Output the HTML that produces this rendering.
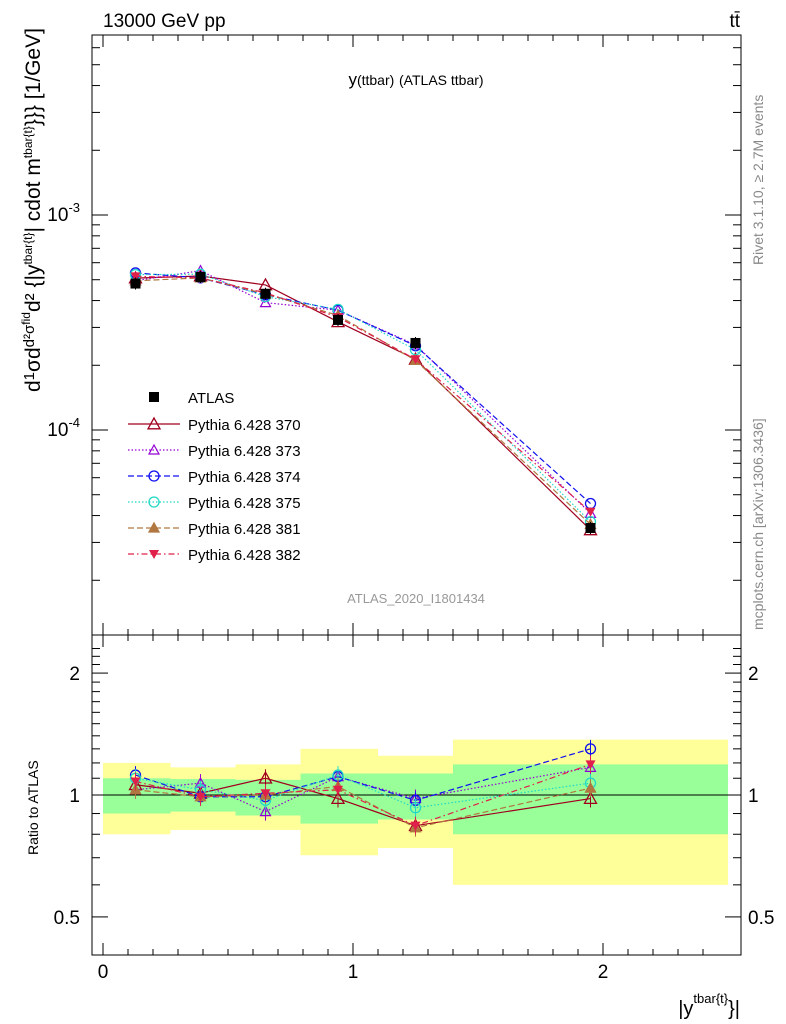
<!DOCTYPE html>
<html><head><meta charset="utf-8">
<style>
body{margin:0;background:#fff;}
svg{display:block;font-family:"Liberation Sans",sans-serif;}
</style></head>
<body>
<svg id="chart" width="786" height="1024" viewBox="0 0 786 1024" xmlns="http://www.w3.org/2000/svg">
<rect width="786" height="1024" fill="#fff"/>
<g id="bands"></g>
<g id="axes"></g>
<g id="series"></g>
<text x="103" y="27" font-size="19">13000 GeV pp</text>
<text x="740" y="27" font-size="19" text-anchor="end">tt̄</text>
<text x="416" y="85" font-size="17" text-anchor="middle">y<tspan font-size="14">(ttbar)</tspan> <tspan font-size="14">(ATLAS ttbar)</tspan></text>
<text x="416" y="603" font-size="13" fill="#999" text-anchor="middle">ATLAS_2020_I1801434</text>
<text transform="translate(763,265) rotate(-90)" font-size="14" fill="#888">Rivet 3.1.10, ≥ 2.7M events</text>
<text transform="translate(763,630) rotate(-90)" font-size="14" fill="#888">mcplots.cern.ch [arXiv:1306.3436]</text>
<text transform="translate(40,392) rotate(-90)" font-size="21">d<tspan font-size="15" dy="-6">1</tspan><tspan dy="6">σ</tspan>d<tspan font-size="15" dy="-6">d²σ</tspan><tspan font-size="12" dy="-4">fid</tspan><tspan dy="10">d² {|y</tspan><tspan font-size="12" dy="-8">tbar{t}</tspan><tspan dy="8">| cdot m</tspan><tspan font-size="12" dy="-8">tbar{t}</tspan><tspan dy="8">}}} [1/GeV]</tspan></text>
<text transform="translate(38,855) rotate(-90)" font-size="14">Ratio to ATLAS</text>
<text x="740" y="1015" font-size="20" text-anchor="end">|y<tspan font-size="13" dy="-12">tbar{t}</tspan><tspan dy="12">}|</tspan></text>
<g id="legend"></g>
</svg>
<script>
// ---- data ----
const binEdges=[0,0.27,0.53,0.79,1.1,1.4,2.5];
const xCenters=[0.13,0.39,0.65,0.94,1.25,1.95];
const atlasValues=[4.8e-4,5.15e-4,4.3e-4,3.25e-4,2.54e-4,3.5e-5];
const yellowLow=[0.80,0.82,0.82,0.71,0.74,0.60];
const yellowHigh=[1.20,1.17,1.19,1.30,1.25,1.37];
const greenLow=[0.90,0.91,0.89,0.85,0.87,0.80];
const greenHigh=[1.10,1.095,1.09,1.13,1.13,1.19];
const ratio370=[1.06,1.01,1.10,0.98,0.84,0.98];
const ratio373=[1.03,1.07,0.91,1.11,0.98,1.17];
const ratio374=[1.12,0.99,0.99,1.11,0.97,1.30];
const ratio375=[1.10,1.03,0.97,1.12,0.93,1.07];
const ratio381=[1.03,0.99,1.00,1.05,0.83,1.04];
const ratio382=[1.08,0.99,1.01,1.03,0.84,1.19];
const seriesNames=["Pythia 6.428 370","Pythia 6.428 373","Pythia 6.428 374","Pythia 6.428 375","Pythia 6.428 381","Pythia 6.428 382"];
const xTicks=[0,1,2];
const mainTicks=[-4,-3];
const ratioTicks=[0.5,1,2];

// ---- axes ----
const X0=92,X1=741,MT=35,MB=635,RT=635,RB=955;
const xs=v=>103+250*v;
const ym=v=>215-215*(Math.log10(v)+3);
const yr=v=>795-405*Math.log10(v);
const NS="http://www.w3.org/2000/svg";
function mk(tag,attrs,parent){const e=document.createElementNS(NS,tag);for(const k in attrs)e.setAttribute(k,attrs[k]);parent.appendChild(e);return e;}
const axes=document.getElementById('axes'),bands=document.getElementById('bands'),ser=document.getElementById('series'),leg=document.getElementById('legend');

for(let i=0;i<xCenters.length;i++){
 const a=xs(binEdges[i]),b=xs(binEdges[i+1]);
 const r1=mk('rect',{x:a,y:yr(yellowHigh[i]),width:b-a,height:yr(yellowLow[i])-yr(yellowHigh[i]),fill:'#ffff99'},bands);
 
 
 const r2=mk('rect',{x:a,y:yr(greenHigh[i]),width:b-a,height:yr(greenLow[i])-yr(greenHigh[i]),fill:'#99ff99'},bands);
 
 
}
mk('line',{x1:X0,x2:X1,y1:yr(1),y2:yr(1),stroke:'#000','stroke-width':1},axes);
mk('rect',{x:X0,y:MT,width:X1-X0,height:MB-MT,fill:'none',stroke:'#000','stroke-width':1},axes);
mk('rect',{x:X0,y:RT,width:X1-X0,height:RB-RT,fill:'none',stroke:'#000','stroke-width':1},axes);
for(let v=0;v<=2.5;v+=0.1){const x=xs(+v.toFixed(1));const maj=Math.abs(v-Math.round(v))<1e-6;const L=maj?12:6;
 for(const [t,b] of [[MT,MB],[RT,RB]]){mk('line',{x1:x,x2:x,y1:b,y2:b-L,stroke:'#000'},axes);mk('line',{x1:x,x2:x,y1:t,y2:t+L,stroke:'#000'},axes);}}
xTicks.forEach(v=>{const t=mk('text',{x:xs(v),y:978,'font-size':19,'text-anchor':'middle'},axes);t.textContent=v;
 
 });
for(let d=-5;d<=-2;d++)for(let m=1;m<10;m++){const v=m*Math.pow(10,d);const y=ym(v);if(y<MT||y>MB)continue;const L=m==1?16:8;
 mk('line',{x1:X0,x2:X0+L,y1:y,y2:y,stroke:'#000'},axes);mk('line',{x1:X1,x2:X1-L,y1:y,y2:y,stroke:'#000'},axes);}
mainTicks.forEach(d=>{const t=mk('text',{x:80,y:ym(Math.pow(10,d))+6,'font-size':19,'text-anchor':'end'},axes);t.innerHTML='10<tspan font-size="13" dy="-9">'+d+'</tspan>';
 
 });
for(let v=0.4;v<=2.4;v+=0.1){const vv=+v.toFixed(1);const y=yr(vv);if(y<RT||y>RB)continue;const maj=ratioTicks.includes(vv);const L=maj?16:8;
 mk('line',{x1:X0,x2:X0+L,y1:y,y2:y,stroke:'#000'},axes);mk('line',{x1:X1,x2:X1-L,y1:y,y2:y,stroke:'#000'},axes);}
ratioTicks.forEach(v=>{for(const [x,a] of [[80,'end'],[748,'start']]){const t=mk('text',{x:x,y:yr(v)+7,'font-size':19,'text-anchor':a},axes);t.textContent=v;
 
 }});

function marker(g,kind,x,y,c){
 if(kind=='sq')mk('rect',{x:x-5,y:y-5,width:10,height:10,fill:'#000'},g);
 else if(kind=='tri'||kind=='triF'){const s=kind=='tri'?6:5;mk('polygon',{points:`${x},${y-s} ${x-s},${y+s*0.8} ${x+s},${y+s*0.8}`,fill:kind=='triF'?c:'none',stroke:c,'stroke-width':1.3},g);}
 else if(kind=='triS')mk('polygon',{points:`${x},${y-5} ${x-5},${y+4} ${x+5},${y+4}`,fill:'none',stroke:c,'stroke-width':1.2},g);
 else if(kind=='circ')mk('circle',{cx:x,cy:y,r:5,fill:'none',stroke:c,'stroke-width':1.3},g);
 else if(kind=='dtri')mk('polygon',{points:`${x},${y+5} ${x-5},${y-4} ${x+5},${y-4}`,fill:c},g);
}
const styles=[
 {r:ratio370,c:'#a0001e',d:'',k:'tri'},
 {r:ratio373,c:'#9400d3',d:'1.5,2',k:'triS'},
 {r:ratio374,c:'#1010ee',d:'6,3',k:'circ'},
 {r:ratio375,c:'#20d8c8',d:'1.5,2',k:'circ'},
 {r:ratio381,c:'#b07840',d:'6,3',k:'triF'},
 {r:ratio382,c:'#e0204a',d:'6,3,1.5,3',k:'dtri'}];
styles.forEach((s,si)=>{
 const g=mk('g',{},ser);
 
 
 const mp=xCenters.map((x,i)=>xs(x)+','+ym(atlasValues[i]*s.r[i])).join(' ');
 const rp=xCenters.map((x,i)=>xs(x)+','+yr(s.r[i])).join(' ');
 mk('polyline',{points:mp,fill:'none',stroke:s.c,'stroke-width':1.2,'stroke-dasharray':s.d},g);
 mk('polyline',{points:rp,fill:'none',stroke:s.c,'stroke-width':1.2,'stroke-dasharray':s.d},g);
 xCenters.forEach((x,i)=>{marker(g,s.k,xs(x),ym(atlasValues[i]*s.r[i]),s.c);
  mk('line',{x1:xs(x),x2:xs(x),y1:yr(s.r[i])-9,y2:yr(s.r[i])+9,stroke:s.c},g);
  marker(g,s.k,xs(x),yr(s.r[i]),s.c);});
 const ly=424+26*si;
 mk('line',{x1:128,x2:180,y1:ly,y2:ly,stroke:s.c,'stroke-width':1.2,'stroke-dasharray':s.d},leg);
 marker(leg,s.k,154,ly,s.c);
 const t=mk('text',{x:188,y:ly+6,'font-size':15},leg);t.textContent=seriesNames[si];
 
 
});
const ga=mk('g',{},ser);


xCenters.forEach((x,i)=>{mk('line',{x1:xs(x),x2:xs(x),y1:ym(atlasValues[i])-6,y2:ym(atlasValues[i])+6,stroke:'#000'},ga);marker(ga,'sq',xs(x),ym(atlasValues[i]),'#000');});
marker(leg,'sq',154,397,'#000');
const ta=mk('text',{x:188,y:403,'font-size':15},leg);ta.textContent='ATLAS';


</script>
</body></html>
